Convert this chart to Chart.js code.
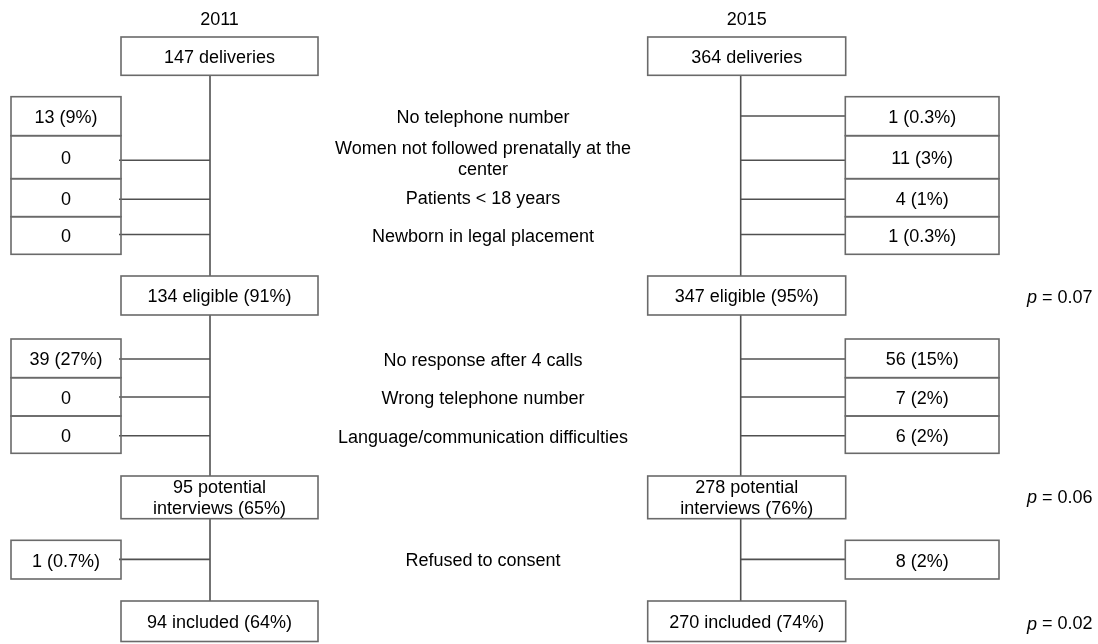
<!DOCTYPE html>
<html><head><meta charset="utf-8">
<script src="https://cdn.jsdelivr.net/npm/chart.js@4.4.1/dist/chart.umd.min.js"></script>
<style>html,body{margin:0;padding:0;background:#fff}#wrap{width:1098px;height:644px;position:relative}</style>
</head><body><div id="wrap"><canvas id="c"></canvas></div>
<script>
// ---------------- data ----------------
const years = ['2011', '2015'];
const stageNames = ['deliveries', 'eligible', 'potential interviews', 'included'];
const stageCounts2011 = [147, 134, 95, 94];
const stageCounts2015 = [364, 347, 278, 270];
const stagePct2011 = [null, 91, 65, 64];
const stagePct2015 = [null, 95, 76, 74];

const ineligibleReasons = ['No telephone number', 'Women not followed prenatally at the center', 'Patients < 18 years', 'Newborn in legal placement'];
const ineligible2011 = [13, 0, 0, 0];
const ineligiblePct2011 = [9, null, null, null];
const ineligible2015 = [1, 11, 4, 1];
const ineligiblePct2015 = [0.3, 3, 1, 0.3];

const unreachedReasons = ['No response after 4 calls', 'Wrong telephone number', 'Language/communication difficulties'];
const unreached2011 = [39, 0, 0];
const unreachedPct2011 = [27, null, null];
const unreached2015 = [56, 7, 6];
const unreachedPct2015 = [15, 2, 2];

const refusalReasons = ['Refused to consent'];
const refused2011 = [1];
const refusedPct2011 = [0.7];
const refused2015 = [8];
const refusedPct2015 = [2];

const pValues = ['0.07', '0.06', '0.02']; // eligible, potential interviews, included

// ---------------- layout (positions / styles only) ----------------
const LAYOUT = {
  font: '"Liberation Sans", Arial, Helvetica, sans-serif',
  size: 18,
  lineH: 21,
  textDy: 1.5,
  textColor: '#000',
  boxColor: '#6a6a6a',
  lineColor: '#505050',
  lineW: 1.6,
  cols: [
    { line: 210, boxL: 121, boxR: 318, exL: 11, exR: 121, side: 'left' },
    { line: 740.7, boxL: 647.7, boxR: 845.7, exL: 845.3, exR: 999, side: 'right' }
  ],
  yearY: 19,
  stageY: [[37, 75.3], [276, 315], [476, 518.7], [601, 641.5]],
  groupRows: [[96.7, 135.7, 178.7, 216.7, 254.3], [339, 377.7, 416, 453.3], [540.3, 579]],
  groupLineY: [[116, 160.3, 199.2, 234.5], [359, 397, 435.7], [559.4]],
  groupLabelY: [[117, 158.5, 198, 236], [359.5, 398, 436.5], [560]],
  noConnector: [[0, 0, 0]], // [col, group, row]
  labelX: 483,
  labelWrap: 320,
  boxWrap: 175,
  pX: 1027,
  pY: [296.5, 496.5, 623]
};

function fmt(n, pct) { return pct == null ? String(n) : `${n} (${pct}%)`; }

const flowPlugin = {
  id: 'flow',
  afterDraw(chart) {
    const ctx = chart.ctx;
    const X = v => chart.scales.x.getPixelForValue(v);
    const Y = v => chart.scales.y.getPixelForValue(v);
    const L = LAYOUT;
    const fontStr = (style) => `${style || ''} ${L.size}px ${L.font}`;
    ctx.save();
    ctx.font = fontStr();
    ctx.fillStyle = L.textColor;
    ctx.textBaseline = 'middle';

    function wrap(text, maxW) {
      const words = text.split(' ');
      const lines = [];
      let cur = '';
      words.forEach(w => {
        const t = cur ? cur + ' ' + w : w;
        if (ctx.measureText(t).width > maxW && cur) { lines.push(cur); cur = w; }
        else cur = t;
      });
      if (cur) lines.push(cur);
      return lines;
    }
    function text(str, x, yc, maxW) {
      const lines = maxW ? wrap(str, maxW) : [str];
      ctx.textAlign = 'center';
      const y0 = yc + L.textDy - (lines.length - 1) * L.lineH / 2;
      lines.forEach((ln, i) => ctx.fillText(ln, X(x), Y(y0 + i * L.lineH)));
    }
    function rect(x0, y0, x1, y1) {
      ctx.strokeStyle = L.boxColor; ctx.lineWidth = L.lineW;
      ctx.strokeRect(X(x0), Y(y0), X(x1) - X(x0), Y(y1) - Y(y0));
    }
    function seg(x0, y0, x1, y1) {
      ctx.strokeStyle = L.lineColor; ctx.lineWidth = L.lineW;
      ctx.beginPath(); ctx.moveTo(X(x0), Y(y0)); ctx.lineTo(X(x1), Y(y1)); ctx.stroke();
    }

    const stageCounts = [stageCounts2011, stageCounts2015];
    const stagePct = [stagePct2011, stagePct2015];
    const groups = [
      { reasons: ineligibleReasons, vals: [ineligible2011, ineligible2015], pct: [ineligiblePct2011, ineligiblePct2015] },
      { reasons: unreachedReasons, vals: [unreached2011, unreached2015], pct: [unreachedPct2011, unreachedPct2015] },
      { reasons: refusalReasons, vals: [refused2011, refused2015], pct: [refusedPct2011, refusedPct2015] }
    ];

    L.cols.forEach((c, ci) => {
      const cx = (c.boxL + c.boxR) / 2;
      text(years[ci], cx, L.yearY);
      for (let s = 0; s < stageNames.length - 1; s++) {
        seg(c.line, L.stageY[s][1], c.line, L.stageY[s + 1][0]);
      }
      stageNames.forEach((nm, s) => {
        const [y0, y1] = L.stageY[s];
        ctx.fillStyle = '#fff';
        ctx.fillRect(X(c.boxL), Y(y0), X(c.boxR) - X(c.boxL), Y(y1) - Y(y0));
        ctx.fillStyle = L.textColor;
        rect(c.boxL, y0, c.boxR, y1);
        text(fmt(`${stageCounts[ci][s]} ${nm}`, stagePct[ci][s]), cx, (y0 + y1) / 2, L.boxWrap);
      });
      groups.forEach((g, gi) => {
        const rows = L.groupRows[gi];
        const ex = (c.exL + c.exR) / 2;
        g.vals[ci].forEach((v, r) => {
          const skip = L.noConnector.some(a => a[0] === ci && a[1] === gi && a[2] === r);
          const ly = L.groupLineY[gi][r];
          if (!skip) {
            if (c.side === 'left') seg(c.exR - 2, ly, c.line, ly);
            else seg(c.line, ly, c.exL, ly);
          }
          rect(c.exL, rows[r], c.exR, rows[r + 1]);
          text(fmt(v, g.pct[ci][r]), ex, (rows[r] + rows[r + 1]) / 2 + 0.5);
        });
      });
    });

    groups.forEach((g, gi) => {
      g.reasons.forEach((rs, r) => text(rs, L.labelX, L.groupLabelY[gi][r], L.labelWrap));
    });

    pValues.forEach((p, i) => {
      ctx.textAlign = 'left';
      ctx.font = fontStr('italic');
      const px = X(L.pX);
      const py = Y(L.pY[i] + L.textDy);
      ctx.fillText('p', px, py);
      const w = ctx.measureText('p').width;
      ctx.font = fontStr();
      ctx.fillText(` = ${p}`, px + w, py);
    });
    ctx.restore();
  }
};

new Chart(document.getElementById('c'), {
  type: 'scatter',
  data: { datasets: [] },
  options: {
    responsive: true,
    maintainAspectRatio: false,
    animation: false,
    layout: { padding: 0 },
    plugins: { legend: { display: false }, tooltip: { enabled: false } },
    scales: {
      x: { type: 'linear', min: 0, max: 1098, display: false },
      y: { type: 'linear', min: 0, max: 644, reverse: true, display: false }
    }
  },
  plugins: [flowPlugin]
});
</script>
</body></html>
